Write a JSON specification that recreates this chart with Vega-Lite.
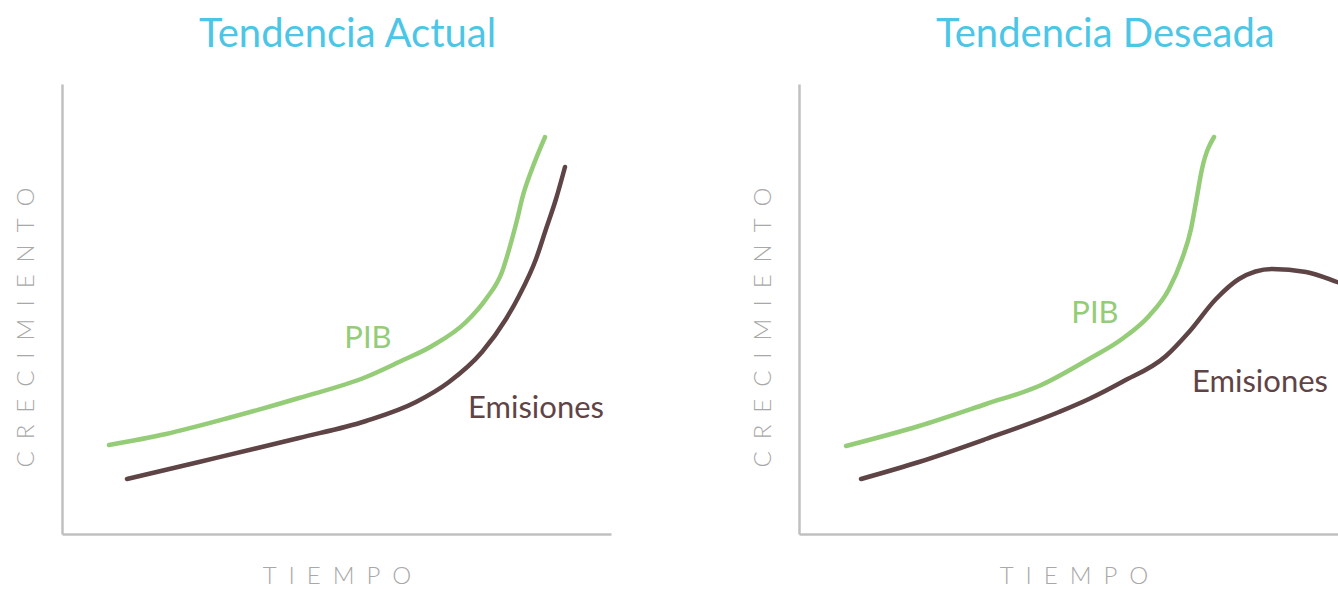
{
  "$schema": "https://vega.github.io/schema/vega-lite/v6.json",
  "padding": {"left": 14, "top": 15, "right": 0, "bottom": 0},
  "background": "white",
  "datasets": {
    "actual": [
      {"serie": "PIB", "t": 47, "v": 89},
      {"serie": "PIB", "t": 104, "v": 100},
      {"serie": "PIB", "t": 170, "v": 117},
      {"serie": "PIB", "t": 237, "v": 136},
      {"serie": "PIB", "t": 304, "v": 157},
      {"serie": "PIB", "t": 337, "v": 172},
      {"serie": "PIB", "t": 370, "v": 188},
      {"serie": "PIB", "t": 404, "v": 212},
      {"serie": "PIB", "t": 424, "v": 235},
      {"serie": "PIB", "t": 440, "v": 262},
      {"serie": "PIB", "t": 450, "v": 295},
      {"serie": "PIB", "t": 456, "v": 318},
      {"serie": "PIB", "t": 460, "v": 335},
      {"serie": "PIB", "t": 470, "v": 365},
      {"serie": "PIB", "t": 483, "v": 397},
      {"serie": "Emisiones", "t": 65, "v": 55},
      {"serie": "Emisiones", "t": 137, "v": 72},
      {"serie": "Emisiones", "t": 237, "v": 96},
      {"serie": "Emisiones", "t": 304, "v": 113},
      {"serie": "Emisiones", "t": 354, "v": 132},
      {"serie": "Emisiones", "t": 387, "v": 152},
      {"serie": "Emisiones", "t": 420, "v": 182},
      {"serie": "Emisiones", "t": 444, "v": 215},
      {"serie": "Emisiones", "t": 457, "v": 238},
      {"serie": "Emisiones", "t": 474, "v": 275},
      {"serie": "Emisiones", "t": 484, "v": 305},
      {"serie": "Emisiones", "t": 494, "v": 335},
      {"serie": "Emisiones", "t": 503, "v": 367}
    ],
    "actual_labels": [
      {"serie": "PIB", "label": "PIB", "t": 306, "v": 186},
      {"serie": "Emisiones", "label": "Emisiones", "t": 474, "v": 116}
    ],
    "deseada": [
      {"serie": "PIB", "t": 47, "v": 88},
      {"serie": "PIB", "t": 120, "v": 108},
      {"serie": "PIB", "t": 187, "v": 130},
      {"serie": "PIB", "t": 240, "v": 148},
      {"serie": "PIB", "t": 290, "v": 175},
      {"serie": "PIB", "t": 323, "v": 195},
      {"serie": "PIB", "t": 350, "v": 218},
      {"serie": "PIB", "t": 370, "v": 245},
      {"serie": "PIB", "t": 383, "v": 275},
      {"serie": "PIB", "t": 392, "v": 305},
      {"serie": "PIB", "t": 397, "v": 332},
      {"serie": "PIB", "t": 403, "v": 365},
      {"serie": "PIB", "t": 415, "v": 397},
      {"serie": "Emisiones", "t": 62, "v": 55},
      {"serie": "Emisiones", "t": 120, "v": 72},
      {"serie": "Emisiones", "t": 187, "v": 95},
      {"serie": "Emisiones", "t": 260, "v": 122},
      {"serie": "Emisiones", "t": 290, "v": 135},
      {"serie": "Emisiones", "t": 323, "v": 152},
      {"serie": "Emisiones", "t": 367, "v": 178},
      {"serie": "Emisiones", "t": 390, "v": 202},
      {"serie": "Emisiones", "t": 417, "v": 235},
      {"serie": "Emisiones", "t": 440, "v": 255},
      {"serie": "Emisiones", "t": 473, "v": 265},
      {"serie": "Emisiones", "t": 507, "v": 262},
      {"serie": "Emisiones", "t": 538, "v": 252},
      {"serie": "Emisiones", "t": 549, "v": 248}
    ],
    "deseada_labels": [
      {"serie": "PIB", "label": "PIB", "t": 296, "v": 211},
      {"serie": "Emisiones", "label": "Emisiones", "t": 461, "v": 142}
    ]
  },
  "spacing": 140,
  "hconcat": [
    {
      "width": 549,
      "height": 450,
      "title": {"text": "Tendencia Actual"},
      "layer": [
        {
          "data": {"name": "actual"},
          "mark": {"type": "line", "interpolate": "monotone", "strokeWidth": 4.5, "strokeCap": "round"},
          "encoding": {
            "x": {"field": "t", "type": "quantitative", "scale": {"domain": [0, 549], "nice": false, "zero": false}, "axis": {"title": "T\u2002I\u2002E\u2002M\u2002P\u2002O"}},
            "y": {"field": "v", "type": "quantitative", "scale": {"domain": [0, 450], "nice": false, "zero": false}, "axis": {"title": "C\u2002R\u2002E\u2002C\u2002I\u2002M\u2002I\u2002E\u2002N\u2002T\u2002O"}},
            "color": {"field": "serie", "type": "nominal", "scale": {"domain": ["PIB", "Emisiones"], "range": ["#94cc78", "#5f4446"]}, "legend": null},
            "detail": {"field": "serie"}
          }
        },
        {
          "data": {"name": "actual_labels"},
          "mark": {"type": "text", "font": "Lato", "fontSize": 31, "align": "center", "baseline": "alphabetic"},
          "encoding": {
            "x": {"field": "t", "type": "quantitative"},
            "y": {"field": "v", "type": "quantitative"},
            "text": {"field": "label"},
            "color": {"field": "serie", "type": "nominal", "scale": {"domain": ["PIB", "Emisiones"], "range": ["#94cc78", "#5f4446"]}, "legend": null}
          }
        }
      ]
    },
    {
      "width": 549,
      "height": 450,
      "title": {"text": "Tendencia Deseada"},
      "layer": [
        {
          "data": {"name": "deseada"},
          "mark": {"type": "line", "interpolate": "monotone", "strokeWidth": 4.5, "strokeCap": "round"},
          "encoding": {
            "x": {"field": "t", "type": "quantitative", "scale": {"domain": [0, 549], "nice": false, "zero": false}, "axis": {"title": "T\u2002I\u2002E\u2002M\u2002P\u2002O"}},
            "y": {"field": "v", "type": "quantitative", "scale": {"domain": [0, 450], "nice": false, "zero": false}, "axis": {"title": "C\u2002R\u2002E\u2002C\u2002I\u2002M\u2002I\u2002E\u2002N\u2002T\u2002O"}},
            "color": {"field": "serie", "type": "nominal", "scale": {"domain": ["PIB", "Emisiones"], "range": ["#94cc78", "#5f4446"]}, "legend": null},
            "detail": {"field": "serie"}
          }
        },
        {
          "data": {"name": "deseada_labels"},
          "mark": {"type": "text", "font": "Lato", "fontSize": 31, "align": "center", "baseline": "alphabetic"},
          "encoding": {
            "x": {"field": "t", "type": "quantitative"},
            "y": {"field": "v", "type": "quantitative"},
            "text": {"field": "label"},
            "color": {"field": "serie", "type": "nominal", "scale": {"domain": ["PIB", "Emisiones"], "range": ["#94cc78", "#5f4446"]}, "legend": null}
          }
        }
      ]
    }
  ],
  "config": {
    "view": {"stroke": null},
    "axis": {
      "domain": true,
      "domainColor": "#c0c0c0",
      "domainWidth": 2.5,
      "ticks": false,
      "labels": false,
      "grid": false,
      "titleFont": "Lato",
      "titleFontWeight": 300,
      "titleFontSize": 24,
      "titleColor": "#a8a8a8"
    },
    "axisX": {"titlePadding": 30},
    "axisY": {"titlePadding": 24, "titleY": 243},
    "title": {
      "anchor": "start",
      "frame": "group",
      "dx": 137,
      "offset": 29,
      "font": "Lato",
      "fontSize": 40,
      "fontWeight": 400,
      "color": "#4cc6e6"
    }
  }
}
